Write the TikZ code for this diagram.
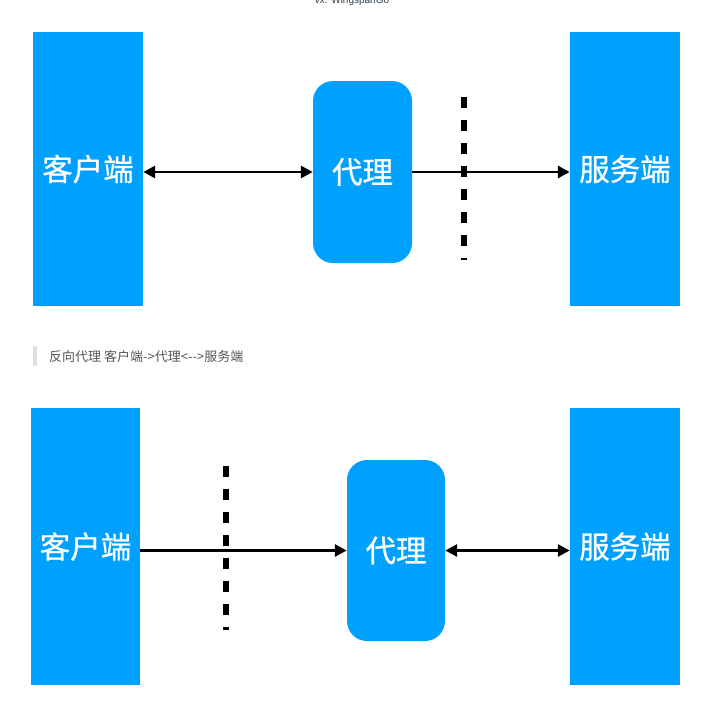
\documentclass[tikz,border=0pt]{standalone}
\usepackage{fontspec}
\setmainfont{Liberation Sans}
\newfontfamily\cjk{Noto Sans CJK SC}
\newfontfamily\cjkm[FakeBold=0.7]{Noto Sans CJK SC}
\usetikzlibrary{arrows.meta}
\definecolor{boxblue}{RGB}{0,160,255}
\definecolor{captxt}{RGB}{85,85,85}
\definecolor{toptxt}{RGB}{44,62,80}
\begin{document}
\begin{tikzpicture}[x=1pt,y=-1pt,
  endbox/.style={fill=boxblue, draw=none, inner sep=0pt, text=white,
    font=\cjkm\fontsize{30.5}{34}\selectfont},
  proxybox/.style={endbox, rounded corners=20pt},
  link/.style={line width=2.8pt, -{Triangle[length=12pt,width=12pt]}},
  dlink/.style={line width=2.8pt, {Triangle[length=12pt,width=12pt]}-{Triangle[length=12pt,width=12pt]}},
  wall/.style={line width=6pt, dash pattern=on 11pt off 12pt}]
\useasboundingbox (0,0) rectangle (711,713);
\fill[white] (0,0) rectangle (711,713);

% top title
\node[anchor=base, inner sep=0pt, text=toptxt, font=\fontsize{10}{12}\selectfont] (title) at (352,3.5) {vx: WingspanGo};

% top diagram
\node[endbox, minimum width=110pt, minimum height=274pt] (c1) at (88,169) {客户端};
\node[proxybox, minimum width=99pt, minimum height=182pt] (p1) at (362.5,172) {代理};
\node[endbox, minimum width=110pt, minimum height=274pt] (s1) at (625,169) {服务端};
\draw[dlink] (c1.east |- p1.center) -- (p1.west);
\draw[link] (p1.east) -- (s1.west |- p1.center);
\coordinate (w1a) at (464,97);
\coordinate (w1b) at (464,260);
\draw[wall] (w1a) -- (w1b);

% caption
\fill[gray!25] (33,346) rectangle (37,366);
\node[anchor=west, inner sep=0pt, text=captxt, font=\cjk\fontsize{13}{15}\selectfont] (cap) at (49,357) {反向代理 客户端->代理<-->服务端};

% bottom diagram
\node[endbox, minimum width=109pt, minimum height=277pt] (c2) at (85.5,546.5) {客户端};
\node[proxybox, minimum width=98pt, minimum height=181pt] (p2) at (396,550.5) {代理};
\node[endbox, minimum width=110pt, minimum height=277pt] (s2) at (625,546.5) {服务端};
\draw[link] (c2.east |- p2.center) -- (p2.west);
\draw[dlink] (p2.east) -- (s2.west |- p2.center);
\coordinate (w2a) at (226,466);
\coordinate (w2b) at (226,630);
\draw[wall] (w2a) -- (w2b);
\end{tikzpicture}
\end{document}
